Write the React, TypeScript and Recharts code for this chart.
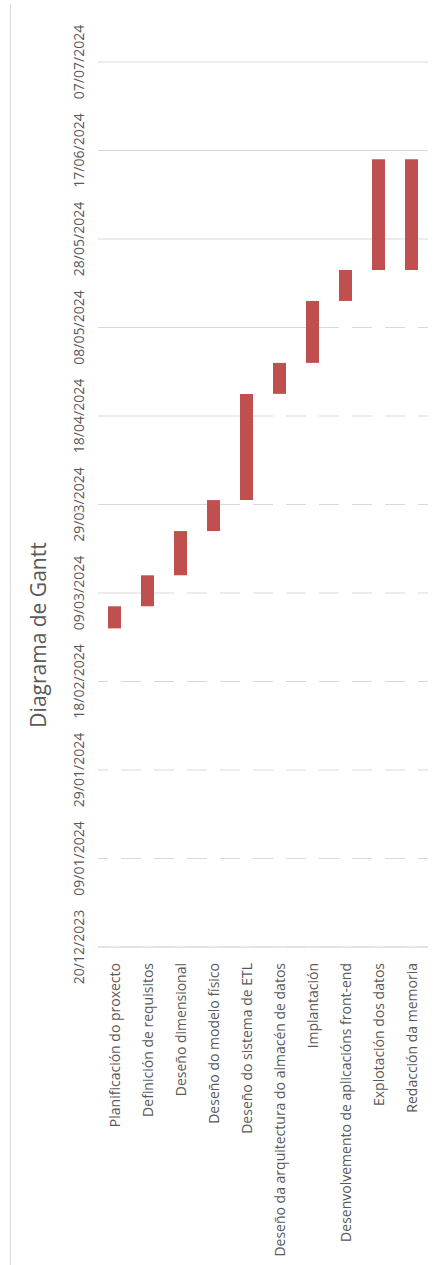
import { Bar, BarChart, CartesianGrid, XAxis, YAxis } from 'recharts';

const tasks = [
  'Planificación do proxecto',
  'Definición de requisitos',
  'Deseño dimensional',
  'Deseño do modelo físico',
  'Deseño do sistema de ETL',
  'Deseño da arquitectura do almacén de datos',
  'Implantación',
  'Desenvolvemento de aplicacións front-end',
  'Explotación dos datos',
  'Redacción da memoria',
];

const startDates = [
  '01/03/2024',
  '06/03/2024',
  '13/03/2024',
  '23/03/2024',
  '30/03/2024',
  '23/04/2024',
  '30/04/2024',
  '14/05/2024',
  '21/05/2024',
  '21/05/2024',
];

const endDates = [
  '06/03/2024',
  '13/03/2024',
  '23/03/2024',
  '30/03/2024',
  '23/04/2024',
  '30/04/2024',
  '14/05/2024',
  '21/05/2024',
  '15/06/2024',
  '15/06/2024',
];

const tickDates = [
  '20/12/2023',
  '09/01/2024',
  '29/01/2024',
  '18/02/2024',
  '09/03/2024',
  '29/03/2024',
  '18/04/2024',
  '08/05/2024',
  '28/05/2024',
  '17/06/2024',
  '07/07/2024',
];

const DAY = 86400000;
const toUtc = (s: string) => {
  const [d, m, y] = s.split('/').map(Number);
  return Date.UTC(y, m - 1, d);
};
const origin = toUtc(tickDates[0]);
const toDay = (s: string) => Math.round((toUtc(s) - origin) / DAY);
const fromDay = (n: number) => {
  const dt = new Date(origin + n * DAY);
  const dd = String(dt.getUTCDate()).padStart(2, '0');
  const mm = String(dt.getUTCMonth() + 1).padStart(2, '0');
  return `${dd}/${mm}/${dt.getUTCFullYear()}`;
};

const data = tasks.map((task, i) => ({
  task,
  base: toDay(startDates[i]),
  dur: toDay(endDates[i]) - toDay(startDates[i]),
}));
const yTicks = tickDates.map(toDay);

const FONT = '"Open Sans", "Liberation Sans", sans-serif';
const TEXT = '#595959';
const GRID = '#d9d9d9';

function DateTick({ x, y, payload }: any) {
  return (
    <text
      x={x - 19}
      y={y}
      dy="0.35em"
      transform={`rotate(-90, ${x - 19}, ${y})`}
      textAnchor="middle"
      fill={TEXT}
      fontSize={14}
      fontFamily={FONT}
    >
      {fromDay(payload.value)}
    </text>
  );
}

function TaskTick({ x, y, payload }: any) {
  return (
    <text
      x={x + 1}
      y={y + 16}
      dy="0.35em"
      transform={`rotate(-90, ${x + 1}, ${y + 16})`}
      textAnchor="end"
      fill={TEXT}
      fontSize={14}
      fontFamily={FONT}
    >
      {payload.value}
    </text>
  );
}

export default function App() {
  return (
    <div style={{ position: 'absolute', top: 0, left: 0, width: 440, height: 1265, background: '#fff' }}>
      <div style={{ position: 'absolute', left: 10, top: 4, bottom: 0, borderLeft: `1px solid ${GRID}` }} />
      <svg width={60} height={1265} style={{ position: 'absolute', left: 0, top: 0 }}>
        <text
          x={39}
          y={635}
          dy="0.35em"
          transform="rotate(-90, 39, 635)"
          textAnchor="middle"
          fill={TEXT}
          fontSize={21}
          fontFamily={FONT}
        >
          Diagrama de Gantt
        </text>
      </svg>
      <div style={{ position: 'absolute', left: 0, top: 0 }}>
        <BarChart
          width={440}
          height={1265}
          data={data}
          margin={{ top: 62, right: 12, bottom: 0, left: 0 }}
          barSize={13}
        >
          <CartesianGrid vertical={false} stroke={GRID} />
          <XAxis
            dataKey="task"
            type="category"
            interval={0}
            height={318}
            tickSize={0}
            tickMargin={0}
            tickLine={false}
            axisLine={{ stroke: GRID }}
            tick={<TaskTick />}
          />
          <YAxis
            type="number"
            domain={[0, 200]}
            ticks={yTicks}
            width={98}
            tickSize={0}
            tickMargin={0}
            tickLine={false}
            axisLine={false}
            tick={<DateTick />}
          />
          <Bar dataKey="base" stackId="a" fill="#ffffff" isAnimationActive={false} />
          <Bar dataKey="dur" stackId="a" fill="#c0504d" isAnimationActive={false} />
        </BarChart>
      </div>
    </div>
  );
}
